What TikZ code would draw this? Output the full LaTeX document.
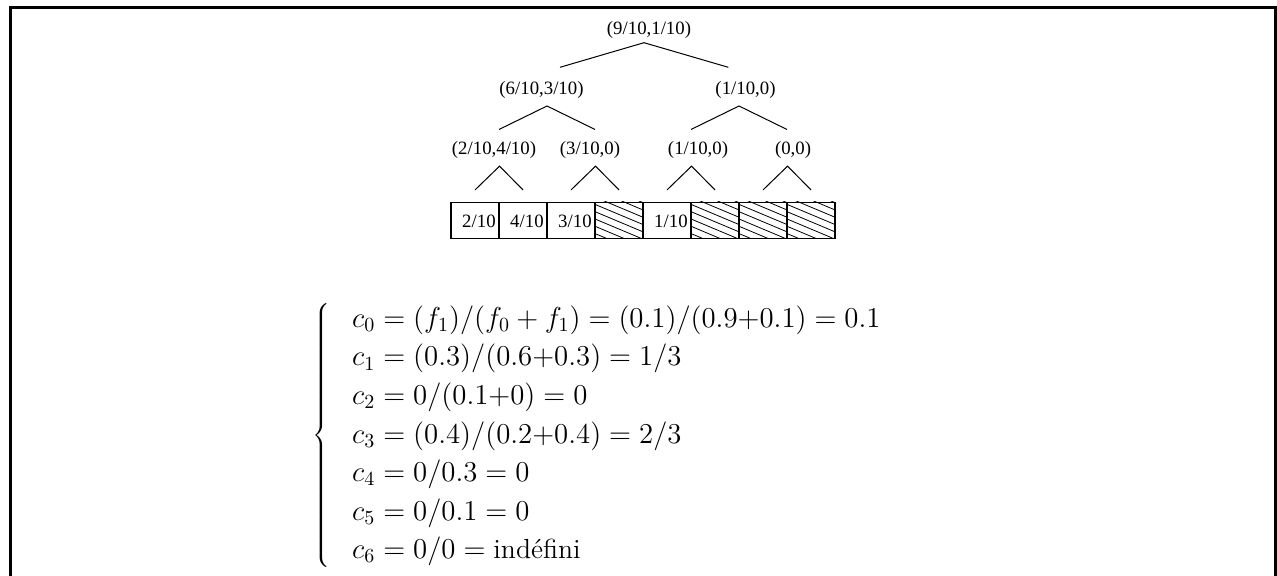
\documentclass[tikz,border=0pt]{standalone}
\usepackage[no-math]{fontspec}
\newfontfamily\treefont{Liberation Serif}
\usetikzlibrary{calc}
% rows of the coefficient system
\newcommand\coefarray{\begin{array}{@{\hspace{11pt}}l@{}}
c_0 = (f_1)/(f_0 + f_1) = (0.1)/(0.9{+}0.1) = 0.1\\
c_1 = (0.3)/(0.6{+}0.3) = 1/3\\
c_2 = 0/(0.1{+}0) = 0\\
c_3 = (0.4)/(0.2{+}0.4) = 2/3\\
c_4 = 0/0.3 = 0\\
c_5 = 0/0.1 = 0\\
c_6 = 0/0 = \mbox{indéfini}
\end{array}}
\begin{document}
\begin{tikzpicture}[x=0.5pt,y=-0.5pt,
  lbl/.style={font=\treefont\fontsize{9.4}{11}\selectfont, inner sep=0, anchor=base},
  edge/.style={line width=0.5pt},
  cellbox/.style={draw, line width=0.55pt, minimum width=24pt, minimum height=18pt, inner sep=0},
  hatch/.style={line width=0.4pt},
  frame/.style={line width=1.3pt, line join=miter},
  eqfont/.style={anchor=west, inner sep=0, font=\fontsize{13.8}{17.5}\selectfont}]
\useasboundingbox (0,0) rectangle (1277,576);

% open frame (no bottom edge)
\draw[frame] (10.5,576) -- (10.5,7.8) -- (1275.5,7.8) -- (1275.5,576);

% tree labels
\node[lbl] (n0) at (649,35) {(9/10,1/10)};
\node[lbl] (n1) at (541.5,95) {(6/10,3/10)};
\node[lbl] (n2) at (745.5,95) {(1/10,0)};
\node[lbl] (n3) at (494,155) {(2/10,4/10)};
\node[lbl] (n4) at (590,155) {(3/10,0)};
\node[lbl] (n5) at (698,155) {(1/10,0)};
\node[lbl] (n6) at (793,155) {(0,0)};

% branch end points
\coordinate (a0) at (644,42.7);
\coordinate (b0l) at (560,67.3);
\coordinate (b0r) at (728.3,67.3);
\coordinate (a1) at (547,106);
\coordinate (b1l) at (499,129.5);
\coordinate (b1r) at (595,129.5);
\coordinate (a2) at (739,106);
\coordinate (b2l) at (691,129.5);
\coordinate (b2r) at (787,129.5);
\draw[edge] (b0l) -- (a0) -- (b0r);
\draw[edge] (b1l) -- (a1) -- (b1r);
\draw[edge] (b2l) -- (a2) -- (b2r);

% leaf cells
\foreach \k in {1,...,8}
  \node[cellbox] (k\k) at ({451+48*\k-24},220.3) {};

% small branches down to the cells
\foreach \j/\l/\r in {1/1/2,2/3/4,3/5/6,4/7/8}{
  \coordinate (p\j) at ($(k\l.north east)+(0,-35.6)$);
  \coordinate (q\l) at ($(k\l.north)+(0,-11.8)$);
  \coordinate (q\r) at ($(k\r.north)+(0,-11.8)$);
  \draw[edge] (q\l) -- (p\j) -- (q\r);
}

% cell values
\node[lbl, anchor=base east] (v1) at ($(k1.east)+(-3.5,7.4)$) {2/10};
\node[lbl, anchor=base east] (v2) at ($(k2.east)+(-3.5,7.4)$) {4/10};
\node[lbl, anchor=base east] (v3) at ($(k3.east)+(-3.5,7.4)$) {3/10};
\node[lbl, anchor=base east] (v5) at ($(k5.east)+(-3.5,7.4)$) {1/10};

% hatched (empty) cells
\foreach \k in {4,6,7,8}{
  \begin{scope}
    \clip (k\k.south west) rectangle (k\k.north east);
    \foreach \i in {-4,...,5}
      \draw[hatch] ($(k\k.north west)+(0,{2.4+7.3*\i})$) -- ++(60,25.2);
  \end{scope}
}

% coefficient system
\node[eqfont] (eqs) at (312,435.3)
  {$\renewcommand\arraystretch{1.1}\left\{\coefarray\right.$};
\end{tikzpicture}
\end{document}
